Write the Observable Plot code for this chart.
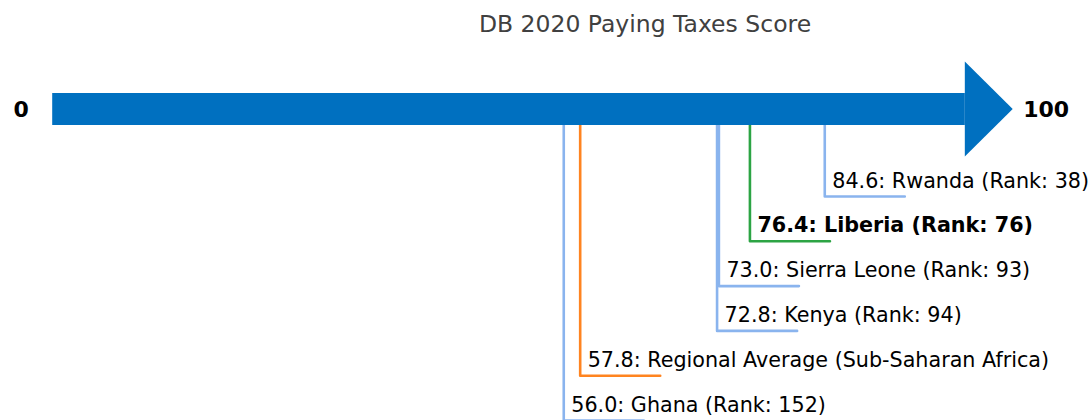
<!DOCTYPE html>
<html>
<head>
<meta charset="utf-8">
<script src="https://cdn.jsdelivr.net/npm/d3@7"></script>
<script src="https://cdn.jsdelivr.net/npm/@observablehq/plot@0.6"></script>
<style>
  html, body { margin: 0; padding: 0; background: #fff; }
  #chart svg { display: block; }
</style>
</head>
<body>
<div id="chart"></div>
<script>
// ---- data ----
const title = "DB 2020 Paying Taxes Score";
const names = ["Rwanda", "Liberia", "Sierra Leone", "Kenya", "Regional Average (Sub-Saharan Africa)", "Ghana"];
const scores = [84.6, 76.4, 73.0, 72.8, 57.8, 56.0];
const ranks = [38, 76, 93, 94, null, 152];
const kinds = ["peer", "focus", "peer", "peer", "average", "peer"];
const scaleMin = 0;
const scaleMax = 100;

// ---- layout ----
const W = 1091, H = 420;
const pxPerUnit = 9.126, x0px = 52.2;
const rowPx = 44.8;
const arrowRow = 109 / rowPx - 3.375;
const shaftHalf = 16 / rowPx;
const headHalf = 47.5 / rowPx;
const headLen = 5.25;
const hookLen = 8.77;
const colors = {peer: "#8ab4ee", focus: "#2ca444", average: "#ff8420"};

const items = names.map((n, i) => ({
  name: n,
  score: scores[i],
  rank: ranks[i],
  kind: kinds[i],
  row: i + 1,
  label: `${scores[i].toFixed(1)}: ${n}` + (ranks[i] != null ? ` (Rank: ${ranks[i]})` : "")
}));

const connectors = items.flatMap(d => [
  {id: d.name, kind: d.kind, x: d.score, y: arrowRow},
  {id: d.name, kind: d.kind, x: d.score, y: d.row},
  {id: d.name, kind: d.kind, x: d.score + hookLen, y: d.row}
]);

const head = [
  {x: scaleMax, y1: arrowRow - headHalf, y2: arrowRow + headHalf},
  {x: scaleMax + headLen, y1: arrowRow, y2: arrowRow}
];

const font = "DejaVu Sans, sans-serif";
const labelOpts = {
  x: "score", y: "row", text: "label",
  textAnchor: "start", lineAnchor: "bottom",
  dx: 7.5, dy: -9,
  fontSize: 20.7,
  fill: "#000"
};

const chart = Plot.plot({
  width: W,
  height: H,
  margin: 0,
  style: {fontFamily: font, background: "#fff"},
  x: {domain: [-x0px / pxPerUnit, (W - x0px) / pxPerUnit], range: [0, W], axis: null},
  y: {domain: [-3.375, H / rowPx - 3.375], range: [0, H], axis: null},
  marks: [
    Plot.line(connectors, {
      x: "x", y: "y", z: "id",
      stroke: d => colors[d.kind],
      strokeWidth: 2.6,
      curve: "linear"
    }),
    Plot.rect([{x1: scaleMin, x2: scaleMax, y1: arrowRow - shaftHalf, y2: arrowRow + shaftHalf}], {
      x1: "x1", x2: "x2", y1: "y1", y2: "y2", fill: "#0070c0"
    }),
    Plot.areaY(head, {x: "x", y1: "y1", y2: "y2", fill: "#0070c0"}),
    Plot.text(items.filter(d => d.kind !== "focus"), {...labelOpts, fontWeight: "normal"}),
    Plot.text(items.filter(d => d.kind === "focus"), {...labelOpts, fontWeight: "bold"}),
    Plot.text([String(scaleMin)], {
      x: scaleMin, y: arrowRow, text: d => d,
      textAnchor: "end", dx: -24, fontSize: 22, fontWeight: "bold", fill: "#000"
    }),
    Plot.text([String(scaleMax)], {
      x: scaleMax + headLen, y: arrowRow, text: d => d,
      textAnchor: "start", dx: 10, fontSize: 22, fontWeight: "bold", fill: "#000"
    }),
    Plot.text([title], {
      x: 592.3 / pxPerUnit, y: -3.375, text: d => d,
      textAnchor: "middle", lineAnchor: "top", dy: 15,
      fontSize: 23.5, fill: "#404040"
    })
  ]
});

document.getElementById("chart").appendChild(chart);
</script>
</body>
</html>
